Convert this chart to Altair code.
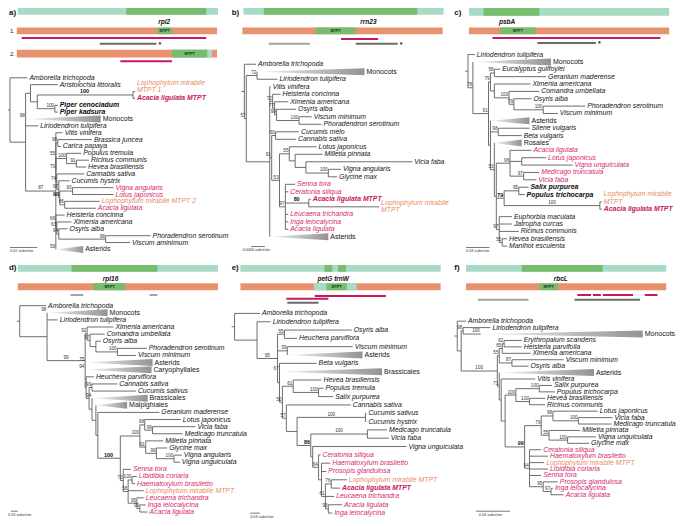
import altair as alt
import pandas as pd

CANVAS_W, CANVAS_H = 685, 526
FONT = "Liberation Sans"

ORIGIN = {"a": (0, 0), "b": (228, 0), "c": (456, 0),
          "d": (0, 262), "e": (228, 262), "f": (456, 262)}
GENE_NAME = {"a": "rpl2", "b": "rrn23", "c": "psbA", "d": "rpl16", "e": "petG trnW", "f": "rbcL"}
GENE_X = {"a": 160, "b": 141, "c": 55, "d": 105, "e": 105, "f": 110}

# ---- gene maps: (track, start, end, kind) -------------------------------
BARS_A = [("P", 10, 215, "cp"), ("P", 121, 203, "cpgene"),
          ("M1", 9, 214, "mt"), ("M1", 153, 168, "mtpt"),
          ("M2", 9, 214, "mt"), ("M2", 168, 209, "cp"), ("M2", 168, 204, "mtpt")]
BARS_B = [("P", 13, 218, "cp"), ("P", 34, 191, "cpgene"), ("M", 12, 217, "mt"), ("M", 87, 128, "mtpt")]
BARS_C = [("P", 16, 221, "cp"), ("P", 31, 88, "cpgene"), ("M", 16, 221, "mt"), ("M", 48, 84, "mtpt")]
BARS_D = [("P", 10, 215, "cp"), ("P", 65, 153, "cpgene"), ("M", 10, 215, "mt"), ("M", 88, 120, "mtpt")]
BARS_E = [("P", 10, 215, "cp"), ("P", 96, 104, "cpgene"), ("P", 110, 118, "cpgene"),
          ("M", 10, 215, "mt"), ("M", 85, 129, "cp"), ("M", 98, 119, "mtpt")]
BARS_F = [("P", 13, 218, "cp"), ("P", 70, 153, "cpgene"), ("M", 13, 218, "mt"), ("M", 88, 107, "mtpt")]

# ---- read / contig lines: (track, start, end, kind, mark) ---------------
LINES_A = [("L1", 14, 203, "pink", ""), ("L2", 94, 152, "dark", "*"), ("L3", 115, 168, "pink", "")]
LINES_B = [("L1", 113, 151, "pink", ""), ("L2", 39, 81, "gray", ""), ("L2", 128, 171, "dark", "*")]
LINES_C = [("L1", 40, 212, "pink", ""), ("L2", 86, 146, "dark", "*")]
LINES_D = [("L1", 64, 77, "gray", ""), ("L1", 145, 153, "gray", "")]
LINES_E = [("L1", 86, 159, "pink", ""), ("L2", 57, 100, "pink", ""), ("L3", 58, 90, "dark", "")]
LINES_F = [("L1", 127, 141, "pink", ""), ("L1", 143, 151, "pink", ""), ("L1", 153, 184, "pink", ""),
           ("L1", 196, 209, "pink", ""), ("L2", 25, 77, "gray", ""), ("L2", 124, 191, "dark", "")]

TRACKS = {
    "a": {"P": (0, 7), "M1": (20, 27), "M2": (43, 51), "L1": 31, "L2": 37, "L3": 55, "gene": 14},
    "b": {"P": (0, 7), "M": (20, 27), "L1": 32, "L2": 37, "gene": 14},
    "c": {"P": (0, 8), "M": (20, 27), "L1": 31, "L2": 36, "gene": 14},
    "d": {"P": (3, 10), "M": (22, 29), "L1": 34, "gene": 17},
    "e": {"P": (3, 10), "M": (22, 29), "L1": 35, "L2": 38, "L3": 42, "gene": 17},
    "f": {"P": (3, 10), "M": (22, 29), "L1": 34, "L2": 39, "gene": 17},
}
TRACK_NUMBERS_A = [("M1", "1."), ("M2", "2.")]

# ---- trees: label@depth ; * Fabaceae, ^ Lophophytum, ! bold, # Acacia MTPT, % collapsed clade
#      support prefix ~ = on branch, ! = bold ; $ = support of collapsed clade
TREE_A = ("(Amborella trichopoda@20,((Aristolochia littoralis@51,((^Lophophytum mirabile|MTPT 1@130,"
          "#Acacia ligulata MTPT@130)~!100@128,(!Piper cenocladum@51,!Piper kadsura@51)100@48)@30)@23,"
          "%Monocots$98@95,Liriodendron tulipifera@31,(Vitis vinifera@56,((Brassica juncea@86,"
          "Carica papaya@54)98@51,((Populus tremula@75,(Ricinus communis@83,Hevea brasiliensis@80)91@70)100@60,"
          "(Cannabis sativa@78,(Cucumis hystrix@63,((*Vigna angularis@108,*Lotus japonicus@108)93@66,"
          "(^Lophophytum mirabile MTPT 2@94,*Acacia ligulata@90)86@58)!90@53)97@52)74@50)70@49)55@49,"
          "(Heisteria concinna@58,(Ximenia americana@65,(Osyris alba@61,(Phoradendron serotinum@146,"
          "Viscum aminimum@125)98@100)94@52)63@50)66@49,%Asterids$59@77)~87@49)@18)@2")
TREE_B = ("(Amborella trichopoda@26,((%Monocots@137,Liriodendron tulipifera@48)72@27,(Vitis vinifera@41,"
          "(Heisteria concinna@51,(Ximenia americana@59,(Osyris alba@67,(Viscum minimum@83,"
          "Phoradendron serotinum@93)100@70)99@47)77@45)72@43,((Cucumis melo@70,Cannabis sativa@67)60@46,"
          "((Lotus japonicus@88,(Milletia pinnata@94,(Vicia faba@186,(Vigna angularis@113,Glycine max@109)100@100)@77)@66)55@60,"
          "(*Senna tora@66,*Ceratonia siliqua@59,(#Acacia ligulata MTPT@82,^Lophophytum mirabile|MTPT@152)~!80@80,"
          "*Leucaena trichandra@59,*Inga leiocalycina@59,*Acacia ligulata@59)97@56)53@50)91@42,%Asterids@100)@40)57@16)@14")
TREE_C = ("(Liriodendron tulipifera@22,(%Monocots@100,(((Eucalyptus guilfoylei@48,Geranium maderense@95)58@42,"
          "(Ximenia americana@79,(Comandra umbellata@88,(Osyris alba@80,(Phoradendron serotinum@135,"
          "Viscum minimum@107)100@92)79@62)100@57)@42)79@38,(%Asterids@78,(Silene vulgaris@78,Beta vulgaris@70)98@46,"
          "(%Rosales@70,((*Acacia ligulata@80,(*Lotus japonicus@95,*Vigna unguiculata@122)@70,"
          "(*Medicago truncatula@88,*Vicia faba@85)97@72)96@58,((!Salix purpurea@77,!Populus trichocarpa@73)95@67,"
          "(^Lophophytum mirabile|MTPT@152,#Acacia ligulata MTPT@152)~100@150)!79@52,(Euphorbia maculata@60,"
          "Jatropha curcas@60,Ricinus communis@67,(Hevea brasiliensis@55,Manihot esculenta@55)55@50)97@47)@44)53@42)@38)91@36)78@20)@15")
TREE_D = ("(Amborella trichopoda@39,(%Monocots$98@102,Liriodendron tulipifera@51,((Ximenia americana@108,"
          "(Comandra umbellata@99,(Osyris alba@95,(Phoradendron serotinum@142,Viscum minimum@131)100@112)@90)97@84)92@81,"
          "%Asterids$75@148,%Caryophyllales$94@147,(Heuchera parviflora@88,((Cannabis sativa@112,Cucumis sativus@131)99@86,"
          "(%Brassicales$94@143,(%Malpighiales@122,(Geranium maderense@155,(((Lotus japonicus@177,(Vicia faba@192,"
          "Medicago truncatula@179)99@148)98@140,(Milletia pinnata@159,(Glycine max@163,(Vigna angularis@178,"
          "Vigna unguiculata@176)100@170)99@152)91@141)100@135,(*Senna tora@126,((*Libidibia coriaria@132,"
          "*Haematoxylum brasiletto@130)100@127,^Lophophytum mirabile MTPT@139,(*Leucaena trichandra@139,"
          "(*Inga leiocalycina@141,*Acacia ligulata@143)99@135)95@132)58@123)70@118)~!100@115)@92)@90)@86)@83)@80)~99@79)@40)@12")
TREE_E = ("(Amborella trichopoda@30,(Liriodendron tulipifera@41,((Osyris alba@124,Heuchera parviflora@68)55@55,"
          "(Viscum minimum@125,%Asterids@135)59@58,(Beta vulgaris@88,%Brassicales$67@155,((Hevea brasiliensis@93,"
          "(Populus tremula@95,Salix purpurea@105)100@90)61@64,(Cannabis sativa@123,((Cucumis sativus@139,"
          "Cucumis hystrix@139)~100@138,((Medicago truncatula@160,Vicia faba@162)~100@140,(Vigna unguiculata@180,"
          "(*Ceratonia siliqua@92,(*Haematoxylum brasiletto@102,*Prosopis glandulosa@98,((^Lophophytum mirabile MTPT@119,"
          "#Acacia ligulata MTPT@112)76@103,*Leucaena trichandra@106,(*Acacia ligulata@114,*Inga leiocalycina@104)93@100)61@97)@93)64@90)@84)!86@82)@68)57@57)50@53)@50)~95@48)@27)@4")
TREE_F = ("(Amborella trichopoda@13,((Liriodendron tulipifera@38,(%Monocots@194)100@28)98@10,((((Erythropalum scandens@70,"
          "Heisteria parvifolia@70)62@52,Ximenia americana@79)65@50,(Viscum minimum@113,Osyris alba@77)87@60)55@47,"
          "(%Asterids@144,(Vitis vinifera@84,(((Salix purpurea@101,Populus trichocarpa@104)100@88,(Hevea brasiliensis@94,"
          "Ricinus communis@94)100@78)100@64,(((Lotus japonicus@148,(Vicia faba@163,Medicago truncatula@162)100@128)98@102,"
          "(Milletia pinnata@130,(Vigna unguiculata@146,Glycine max@139)100@117)55@98)79@90,(*Ceratonia siliqua@90,"
          "*Haematoxylum brasiletto@97,^Lophophytum mirabile MTPT@93,*Libidibia coriaria@97,*Senna tora@90,"
          "(*Prosopis glandulosa@107,(*Inga leiocalycina@102,*Acacia ligulata@113)97@100)95@92)94@78)!99@73)@53)@49)71@47)~100@45)@8)@4")

TREES = {"a": TREE_A, "b": TREE_B, "c": TREE_C, "d": TREE_D, "e": TREE_E, "f": TREE_F}
ROWS = {"a": (72, 7.08), "b": (58, 7.74), "c": (48, 7.6), "d": (45, 7.34), "e": (53, 8.58), "f": (61, 6.63)}
# two-line labels: the first line is drawn at the anchor, so lift them
NUDGE = {("a", "Lophophytum mirabile|MTPT 1"): -9.2, ("b", "Lophophytum mirabile|MTPT"): -4.0,
         ("c", "Lophophytum mirabile|MTPT"): -8.0}

# scale bars: (label, x1, x2, y, text x)
SCALEBARS = {"a": ("0.02 subs/site", 2, 30, 247, 2), "b": ("0.0066 subs/site", 21, 35, 246, 12),
             "c": ("0.03 subs/site", 13, 37, 247, 13), "d": ("0.03 subs/site", 3, 10, 257, 0),
             "e": ("0.03 subs/site", 20, 30, 259, 20), "f": ("0.04 subs/site", 23, 58, 257, 26)}

PALETTE = {"cp": "#a8dbc4", "cpgene": "#77bd6f", "mt": "#e8916f", "mtpt": "#77bd6f",
           "pink": "#c9195e", "gray": "#a3a3a3", "dark": "#6b6b6b",
           "plain": "#141414", "bold": "#0a0a0a", "acacia": "#d6286f", "loph": "#ea8b5d",
           "acmtpt": "#c8175d", "clade": "#141414"}
STYLE_OF = {"*": "acacia", "^": "loph", "!": "bold", "#": "acmtpt", "%": "clade"}

BARS = {"a": BARS_A, "b": BARS_B, "c": BARS_C, "d": BARS_D, "e": BARS_E, "f": BARS_F}
LINES = {"a": LINES_A, "b": LINES_B, "c": LINES_C, "d": LINES_D, "e": LINES_E, "f": LINES_F}


def gx(key, x):
    return ORIGIN[key][0] + x


def gy(key, y):
    return ORIGIN[key][1] + y


bars, lines, notes = [], [], []
for key, segs in BARS.items():
    tr = TRACKS[key]
    for track, a, b, kind in segs:
        y1, y2 = tr[track]
        bars.append(dict(x=gx(key, a), x2=gx(key, b), y=gy(key, y1), y2=gy(key, y2), kind=kind))
        if kind == "mtpt":
            notes.append(dict(role="mtpt", x=gx(key, (a + b) / 2), y=gy(key, (y1 + y2) / 2), text="MTPT"))
for key, segs in LINES.items():
    for track, a, b, kind, mark in segs:
        y = TRACKS[key][track]
        lines.append(dict(x=gx(key, a), x2=gx(key, b), y=gy(key, y), kind=kind))
        if mark:
            notes.append(dict(role="star", x=gx(key, b + 2), y=gy(key, y + 1), text=mark))
for key in ORIGIN:
    notes.append(dict(role="letter", x=gx(key, 1), y=gy(key, 5 if key in "abc" else 6), text=key + ")"))
    notes.append(dict(role="gene", x=gx(key, GENE_X[key]), y=gy(key, TRACKS[key]["gene"]), text=GENE_NAME[key]))
for track, txt in TRACK_NUMBERS_A:
    y1, y2 = TRACKS["a"][track]
    notes.append(dict(role="track", x=gx("a", 2), y=gy("a", (y1 + y2) / 2), text=txt))

scale_lines = []
for key, (lab, x1, x2, y, tx) in SCALEBARS.items():
    scale_lines.append(dict(x=gx(key, x1), x2=gx(key, x2), y=gy(key, y)))
    notes.append(dict(role="scale", x=gx(key, tx), y=gy(key, y + 3.5), text=lab))

seg_rows, tri_rows, tip_rows, sup_rows = [], [], [], []


def parse_tree(s):
    pos = 0

    def node():
        nonlocal pos
        kids = []
        if s[pos] == "(":
            pos += 1
            while True:
                kids.append(node())
                ch = s[pos]
                pos += 1
                if ch == ")":
                    break
        at = s.index("@", pos)
        label = s[pos:at]
        end = at + 1
        while end < len(s) and s[end] not in ",()":
            end += 1
        x = float(s[at + 1:end])
        pos = end
        return {"label": label, "x": x, "kids": kids}

    return node()


def support(key, raw, x, y, px):
    mid = "~" in raw
    bold = "!" in raw
    txt = raw.replace("~", "").replace("!", "")
    if not txt:
        return
    if mid and px is not None:
        ax = (px + x) / 2 + 1.3 * len(txt)
    else:
        ax = x - 0.8
    sup_rows.append(dict(x=gx(key, ax), y=gy(key, y - 0.6), text=txt, bold=bold))


def build_tree(key, text, row0, step):
    root = parse_tree(text)
    count = [0]

    def place(n):
        if n["kids"]:
            for c in n["kids"]:
                place(c)
            n["y"] = (n["kids"][0]["y"] + n["kids"][-1]["y"]) / 2
        else:
            n["y"] = row0 + step * count[0]
            count[0] += 1

    place(root)

    def seg(x1, y1, x2, y2):
        seg_rows.append(dict(x=gx(key, x1), y=gy(key, y1), x2=gx(key, x2), y2=gy(key, y2)))

    def walk(n, px):
        x, y = n["x"], n["y"]
        if n["kids"]:
            seg(x - 3 if px is None else px, y, x, y)
            seg(x, n["kids"][0]["y"], x, n["kids"][-1]["y"])
            support(key, n["label"], x, y, px)
            for c in n["kids"]:
                walk(c, x)
            return
        label = n["label"]
        style = STYLE_OF.get(label[0], "plain")
        if style != "plain":
            label = label[1:]
        name, _, sup = label.partition("$")
        if style == "clade":
            tid = key + "-" + name
            tri_rows.append(dict(tid=tid, x=gx(key, px), y=gy(key, y), y2=gy(key, y)))
            tri_rows.append(dict(tid=tid, x=gx(key, x), y=gy(key, y - 3.6), y2=gy(key, y + 3.6)))
            support(key, sup, px, y, None)
        else:
            seg(px, y, x, y)
        tip_rows.append(dict(x=gx(key, x + 2), y=gy(key, y + NUDGE.get((key, name), 0)), text=name, kind=style))

    walk(root, None)


for key, tree in TREES.items():
    build_tree(key, tree, *ROWS[key])

xs = alt.Scale(domain=[0, CANVAS_W], nice=False, zero=False)
ys = alt.Scale(domain=[0, CANVAS_H], nice=False, zero=False, reverse=True)
X = alt.X("x:Q", scale=xs, axis=None)
Y = alt.Y("y:Q", scale=ys, axis=None)
C = alt.Color("kind:N", scale=alt.Scale(domain=list(PALETTE), range=list(PALETTE.values())), legend=None)

bars_layer = alt.Chart(pd.DataFrame(bars)).mark_rect().encode(
    x=X, x2=alt.X2("x2"), y=Y, y2=alt.Y2("y2"), color=C)
lines_layer = alt.Chart(pd.DataFrame(lines)).mark_rule(strokeWidth=2).encode(
    x=X, x2=alt.X2("x2"), y=Y, color=C)
branch_layer = alt.Chart(pd.DataFrame(seg_rows)).mark_rule(color="#5e5e5e", strokeWidth=0.9).encode(
    x=X, x2=alt.X2("x2"), y=Y, y2=alt.Y2("y2"))
tri_layer = alt.Chart(pd.DataFrame(tri_rows)).mark_area(
    orient="vertical", interpolate="linear",
    color=alt.Gradient(gradient="linear", x1=0, x2=1, y1=0, y2=0,
                       stops=[alt.GradientStop(color="#f4f4f4", offset=0),
                              alt.GradientStop(color="#939393", offset=1)])
).encode(x=X, y=Y, y2=alt.Y2("y2"), detail="tid:N")

tips = pd.DataFrame(tip_rows)


def tip_layer(kinds, size=6.9, **mk):
    return alt.Chart(tips).transform_filter(
        alt.FieldOneOfPredicate(field="kind", oneOf=kinds)
    ).mark_text(align="left", baseline="middle", font=FONT, fontSize=size, **mk).encode(
        x=X, y=Y, text="text:N", color=C)


tip_plain = tip_layer(["plain", "acacia", "loph"], fontStyle="italic", lineBreak="|", lineHeight=7.4)
tip_bold = tip_layer(["bold", "acmtpt"], fontStyle="italic", fontWeight="bold")
tip_clade = tip_layer(["clade"], size=7)

sups = pd.DataFrame(sup_rows)
sup_norm = alt.Chart(sups).transform_filter("!datum.bold").mark_text(
    align="right", baseline="bottom", font=FONT, fontSize=4.6, color="#333333").encode(x=X, y=Y, text="text:N")
sup_bold = alt.Chart(sups).transform_filter("datum.bold").mark_text(
    align="right", baseline="bottom", font=FONT, fontSize=5.4, fontWeight="bold", color="#111111").encode(
    x=X, y=Y, text="text:N")

notes_df = pd.DataFrame(notes)


def note_layer(role, **mk):
    return alt.Chart(notes_df).transform_filter(alt.FieldEqualPredicate(field="role", equal=role)).mark_text(
        font=FONT, baseline="middle", **mk).encode(x=X, y=Y, text="text:N")


letters = note_layer("letter", align="left", fontSize=8, fontWeight="bold", color="#111111")
genes = note_layer("gene", align="center", fontSize=6.5, fontWeight="bold", fontStyle="italic", color="#111111")
tracks = note_layer("track", align="left", fontSize=6, color="#222222")
stars = note_layer("star", align="left", fontSize=7, fontWeight="bold", color="#222222")
mtpts = note_layer("mtpt", align="center", fontSize=3.8, fontWeight="bold", color="#12301a")
scales_txt = note_layer("scale", align="left", fontSize=3.8, color="#333333")
scale_rule = alt.Chart(pd.DataFrame(scale_lines)).mark_rule(color="#222222", strokeWidth=0.6).encode(
    x=X, x2=alt.X2("x2"), y=Y)

chart = alt.layer(
    bars_layer, lines_layer, branch_layer, tri_layer,
    tip_plain, tip_bold, tip_clade, sup_norm, sup_bold,
    letters, genes, tracks, stars, mtpts, scales_txt, scale_rule,
).properties(
    width=669, height=510, padding=0, autosize=alt.AutoSizeParams(type="none")
).configure_view(stroke=None)

chart.save("out.html", embed_options={"renderer": "svg", "actions": False})
